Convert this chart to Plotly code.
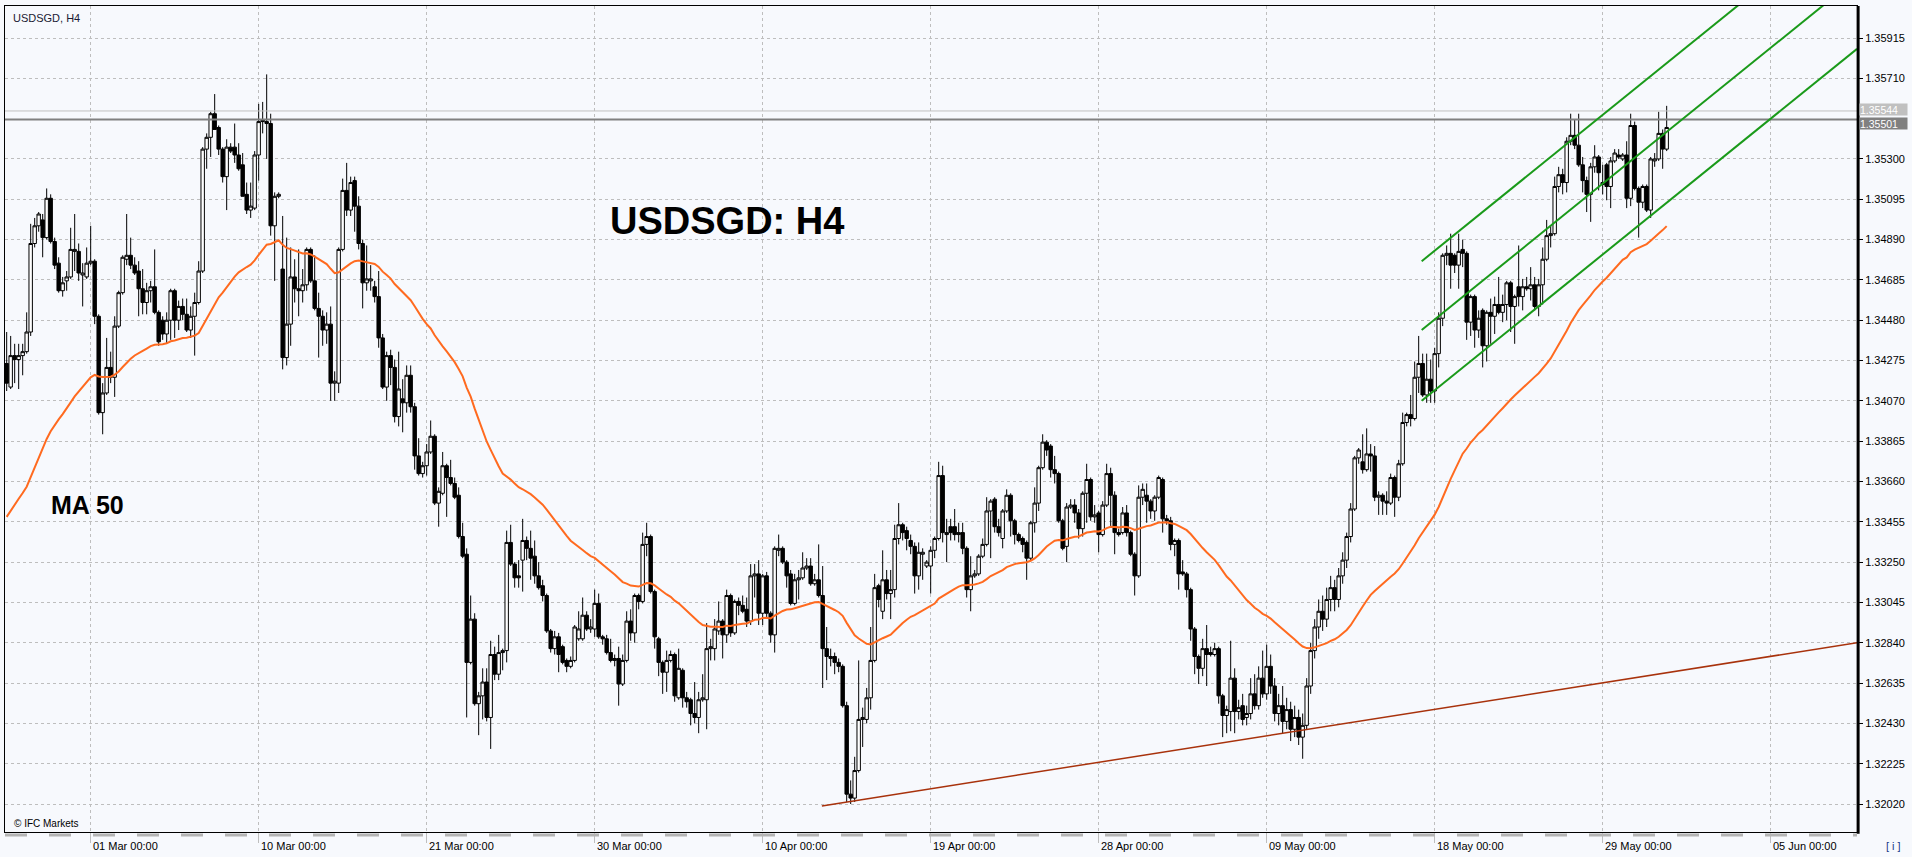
import numpy as np
import pandas as pd
import plotly.graph_objects as go

# ---------------- data ----------------
symbol_caption = "USDSGD, H4"
chart_label = "USDSGD: H4"
ma_label = "MA 50"
ma_period = 50
ma_start = 1.3348          # MA value at the first visible bar
first_bar = "2023-02-23 12:00"
ask_price = 1.35544
bid_price = 1.35501

open_ = [
1.3426,1.3414,1.3430,1.3428,1.3430,1.3432,1.3442,1.3487,1.3496,1.3499,
1.3490,1.3510,1.3488,1.3477,1.3463,1.3468,1.3470,1.3483,1.3483,1.3471,
1.3470,1.3477,1.3478,1.3450,1.3401,1.3411,1.3424,1.3419,1.3445,1.3462,
1.3479,1.3481,1.3476,1.3473,1.3464,1.3457,1.3463,1.3465,1.3452,1.3448,
1.3441,1.3448,1.3463,1.3448,1.3455,1.3451,1.3443,1.3450,1.3457,1.3473,
1.3535,1.3541,1.3553,1.3546,1.3535,1.3521,1.3536,1.3536,1.3532,1.3527,
1.3512,1.3504,1.3505,1.3532,1.3550,1.3549,1.3548,1.3496,1.3511,1.3474,
1.3429,1.3446,1.3470,1.3464,1.3463,1.3466,1.3484,1.3468,1.3454,1.3450,
1.3443,1.3446,1.3416,1.3416,1.3484,1.3514,1.3504,1.3519,1.3506,1.3487,
1.3467,1.3468,1.3465,1.3460,1.3439,1.3414,1.3430,1.3424,1.3399,1.3408,
1.3406,1.3420,1.3404,
1.3379,1.3370,1.3374,1.3381,1.3389,1.3355,1.3360,1.3374,1.3368,1.3365,
1.3359,1.3338,1.3329,1.3274,1.3296,1.3253,1.3257,1.3264,1.3246,1.3278,
1.3268,1.3279,1.3280,1.3335,1.3324,1.3318,1.3326,1.3336,1.3332,1.3328,
1.3318,1.3313,1.3308,1.3290,1.3281,1.3287,1.3282,1.3275,1.3272,1.3275,
1.3286,1.3286,1.3298,1.3291,1.3291,1.3304,1.3287,1.3286,1.3279,1.3275,
1.3276,1.3263,1.3275,1.3295,1.3289,1.3308,1.3305,1.3334,1.3338,1.3310,
1.3286,1.3274,1.3269,1.3275,1.3278,1.3256,1.3270,1.3256,1.3255,1.3248,
1.3246,1.3255,1.3255,1.3281,1.3281,1.3290,1.3295,1.3288,1.3308,1.3289,
1.3305,1.3303,1.3301,1.3295,1.3318,1.3319,1.3299,1.3318,1.3299,1.3288,
1.3331,1.3332,1.3325,1.3319,1.3304,1.3316,1.3317,1.3322,1.3323,1.3314,
1.3316,1.3308,1.3281,1.3276,1.3277,
1.3274,1.3272,1.3252,1.3207,1.3205,1.3219,1.3245,1.3245,1.3256,1.3275,
1.3313,1.3300,1.3316,1.3309,1.3311,1.3337,1.3344,1.3341,1.3336,1.3333,
1.3318,1.3329,1.3323,1.3323,1.3331,1.3337,1.3369,1.3339,1.3343,1.3343,
1.3339,1.3340,1.3332,1.3311,1.3318,1.3319,1.3328,1.3334,1.3351,1.3357,
1.3343,1.3337,1.3351,1.3359,1.3346,1.3339,1.3337,1.3335,1.3327,1.3345,
1.3355,1.3373,1.3386,1.3384,1.3372,1.3370,1.3346,1.3333,1.3353,1.3354,
1.3350,1.3342,1.3360,1.3367,1.3348,1.3350,1.3339,1.3354,1.3370,1.3359,
1.3340,1.3340,1.3350,1.3340,1.3329,1.3318,1.3358,1.3359,1.3356,1.3351,
1.3358,1.3367,1.3347,1.3346,1.3334,1.3336,1.3320,1.3319,1.3311,1.3291,
1.3277,1.3271,1.3281,1.3279,1.3278,1.3281,1.3257,1.3247,1.3249,1.3266,
1.3249,1.3252,1.3246,
1.3248,1.3258,1.3252,1.3266,1.3258,1.3272,1.3262,1.3248,1.3252,1.3244,
1.3250,1.3240,1.3246,1.3236,1.3242,1.3262,1.3280,1.3292,1.3300,1.3296,
1.3306,1.3312,1.3306,1.3318,1.3326,1.3338,1.3352,1.3378,1.3376,1.3372,
1.3380,1.3379,1.3358,1.3359,1.3356,1.3355,1.3368,1.3358,1.3375,1.3396,
1.3400,1.3398,1.3419,1.3426,1.3410,1.3418,1.3412,1.3431,1.3449,1.3481,
1.3482,1.3481,1.3476,1.3484,1.3482,1.3447,1.3460,1.3443,1.3453,1.3435,
1.3452,1.3450,1.3456,1.3452,1.3456,1.3467,1.3455,1.3465,1.3460,1.3465,
1.3464,1.3466,1.3455,1.3466,1.3479,1.3491,1.3492,1.3516,1.3522,1.3518,
1.3539,1.3542,1.3537,1.3527,1.3519,1.3512,1.3526,1.3531,1.3518,1.3527,
1.3516,1.3529,1.3532,1.3530,1.3532,1.3510,1.3547,1.3515,1.3508,1.3516,
1.3504,1.3529,1.3530,1.3543,1.3535]

high = [
1.3442,1.3440,1.3436,1.3436,1.3436,1.3452,1.3497,1.3500,1.3503,1.3502,
1.3515,1.3512,1.3490,1.3480,1.3470,1.3473,1.3495,1.3502,1.3487,1.3477,
1.3485,1.3496,1.3479,1.3451,1.3416,1.3439,1.3432,1.3450,1.3463,1.3481,
1.3502,1.3490,1.3480,1.3478,1.3474,1.3467,1.3468,1.3484,1.3453,1.3450,
1.3452,1.3464,1.3464,1.3458,1.3459,1.3459,1.3455,1.3462,1.3478,1.3536,
1.3543,1.3554,1.3563,1.3547,1.3536,1.3540,1.3538,1.3548,1.3538,1.3533,
1.3518,1.3518,1.3534,1.3558,1.3559,1.3573,1.3553,1.3513,1.3513,1.3501,
1.3490,1.3485,1.3479,1.3484,1.3474,1.3485,1.3485,1.3481,1.3462,1.3453,
1.3452,1.3455,1.3422,1.3485,1.3520,1.3528,1.3521,1.3521,1.3511,1.3489,
1.3486,1.3476,1.3468,1.3473,1.3441,1.3432,1.3433,1.3428,1.3432,1.3418,
1.3425,1.3425,1.3406,
1.3388,1.3376,1.3385,1.3397,1.3390,1.3363,1.3381,1.3375,1.3377,1.3368,
1.3363,1.3345,1.3332,1.3308,1.3299,1.3259,1.3271,1.3271,1.3285,1.3282,
1.3288,1.3281,1.3341,1.3344,1.3325,1.3326,1.3347,1.3338,1.3341,1.3336,
1.3325,1.3316,1.3309,1.3291,1.3290,1.3289,1.3283,1.3276,1.3277,1.3293,
1.3300,1.3307,1.3300,1.3296,1.3311,1.3309,1.3288,1.3288,1.3286,1.3278,
1.3282,1.3278,1.3300,1.3301,1.3309,1.3309,1.3340,1.3345,1.3339,1.3311,
1.3287,1.3275,1.3280,1.3280,1.3279,1.3281,1.3271,1.3259,1.3256,1.3264,
1.3259,1.3268,1.3294,1.3286,1.3296,1.3305,1.3296,1.3311,1.3309,1.3306,
1.3307,1.3308,1.3307,1.3324,1.3324,1.3326,1.3319,1.3320,1.3300,1.3333,
1.3339,1.3333,1.3326,1.3321,1.3319,1.3321,1.3330,1.3327,1.3327,1.3319,
1.3334,1.3323,1.3292,1.3281,1.3279,
1.3276,1.3273,1.3254,1.3214,1.3226,1.3275,1.3251,1.3261,1.3292,1.3319,
1.3314,1.3331,1.3321,1.3321,1.3344,1.3355,1.3345,1.3343,1.3339,1.3335,
1.3335,1.3332,1.3326,1.3333,1.3338,1.3376,1.3374,1.3347,1.3347,1.3352,
1.3345,1.3345,1.3333,1.3328,1.3321,1.3329,1.3337,1.3358,1.3357,1.3358,
1.3347,1.3352,1.3362,1.3360,1.3347,1.3340,1.3338,1.3336,1.3346,1.3363,
1.3374,1.3390,1.3387,1.3385,1.3379,1.3371,1.3347,1.3355,1.3357,1.3357,
1.3352,1.3361,1.3375,1.3368,1.3354,1.3351,1.3356,1.3375,1.3373,1.3361,
1.3342,1.3353,1.3354,1.3341,1.3330,1.3364,1.3365,1.3365,1.3357,1.3359,
1.3369,1.3368,1.3349,1.3348,1.3337,1.3337,1.3326,1.3320,1.3312,1.3292,
1.3278,1.3286,1.3293,1.3282,1.3284,1.3282,1.3258,1.3252,1.3285,1.3271,
1.3255,1.3258,1.3252,
1.3266,1.3268,1.3272,1.3280,1.3283,1.3278,1.3266,1.3258,1.3262,1.3256,
1.3254,1.3252,1.3250,1.3248,1.3266,1.3284,1.3296,1.3306,1.3308,1.3312,
1.3318,1.3316,1.3322,1.3330,1.3340,1.3355,1.3379,1.3383,1.3390,1.3393,
1.3385,1.3384,1.3361,1.3360,1.3361,1.3370,1.3369,1.3377,1.3401,1.3401,
1.3410,1.3427,1.3440,1.3431,1.3431,1.3428,1.3434,1.3452,1.3482,1.3486,
1.3492,1.3482,1.3492,1.3489,1.3483,1.3461,1.3461,1.3453,1.3454,1.3453,
1.3459,1.3460,1.3470,1.3461,1.3468,1.3468,1.3461,1.3486,1.3469,1.3470,
1.3475,1.3470,1.3469,1.3485,1.3499,1.3496,1.3521,1.3526,1.3525,1.3541,
1.3553,1.3550,1.3553,1.3531,1.3521,1.3528,1.3537,1.3532,1.3527,1.3528,
1.3531,1.3535,1.3535,1.3533,1.3539,1.3553,1.3549,1.3516,1.3517,1.3517,
1.3531,1.3533,1.3554,1.3545,1.3557]

low = [
1.3412,1.3413,1.3416,1.3413,1.3420,1.3431,1.3440,1.3485,1.3493,1.3480,
1.3489,1.3487,1.3474,1.3462,1.3460,1.3463,1.3469,1.3473,1.3468,1.3455,
1.3469,1.3476,1.3446,1.3400,1.3390,1.3410,1.3416,1.3409,1.3444,1.3461,
1.3476,1.3474,1.3471,1.3450,1.3451,1.3451,1.3457,1.3451,1.3435,1.3438,
1.3436,1.3438,1.3439,1.3443,1.3448,1.3442,1.3439,1.3430,1.3456,1.3472,
1.3525,1.3531,1.3545,1.3532,1.3518,1.3504,1.3533,1.3528,1.3524,1.3511,
1.3502,1.3500,1.3504,1.3519,1.3543,1.3530,1.3491,1.3468,1.3510,1.3423,
1.3425,1.3435,1.3457,1.3450,1.3457,1.3463,1.3467,1.3453,1.3429,1.3435,
1.3436,1.3407,1.3407,1.3411,1.3483,1.3501,1.3501,1.3493,1.3484,1.3454,
1.3463,1.3463,1.3457,1.3434,1.3413,1.3407,1.3415,1.3396,1.3394,1.3391,
1.3401,1.3401,1.3372,
1.3369,1.3368,1.3369,1.3380,1.3354,1.3343,1.3359,1.3348,1.3364,1.3357,
1.3337,1.3327,1.3246,1.3273,1.3252,1.3237,1.3245,1.3244,1.3230,1.3265,
1.3265,1.3270,1.3274,1.3323,1.3312,1.3312,1.3310,1.3326,1.3316,1.3314,
1.3311,1.3305,1.3289,1.3279,1.3278,1.3269,1.3273,1.3269,1.3271,1.3274,
1.3285,1.3285,1.3290,1.3289,1.3287,1.3286,1.3283,1.3278,1.3274,1.3272,
1.3252,1.3262,1.3274,1.3285,1.3284,1.3301,1.3304,1.3328,1.3309,1.3281,
1.3267,1.3258,1.3259,1.3274,1.3254,1.3255,1.3251,1.3251,1.3242,1.3243,
1.3238,1.3254,1.3240,1.3275,1.3275,1.3288,1.3276,1.3284,1.3287,1.3288,
1.3298,1.3299,1.3292,1.3293,1.3307,1.3293,1.3293,1.3297,1.3284,1.3279,
1.3328,1.3324,1.3312,1.3303,1.3303,1.3306,1.3316,1.3321,1.3313,1.3313,
1.3307,1.3261,1.3265,1.3272,1.3268,
1.3269,1.3251,1.3203,1.3202,1.3203,1.3218,1.3231,1.3243,1.3250,1.3274,
1.3302,1.3296,1.3306,1.3296,1.3307,1.3334,1.3336,1.3331,1.3329,1.3309,
1.3311,1.3316,1.3322,1.3309,1.3327,1.3336,1.3335,1.3325,1.3336,1.3336,
1.3335,1.3329,1.3307,1.3300,1.3317,1.3318,1.3327,1.3333,1.3327,1.3340,
1.3338,1.3332,1.3350,1.3338,1.3334,1.3335,1.3330,1.3316,1.3326,1.3340,
1.3351,1.3372,1.3379,1.3368,1.3365,1.3345,1.3331,1.3325,1.3352,1.3345,
1.3337,1.3338,1.3345,1.3346,1.3345,1.3330,1.3338,1.3353,1.3343,1.3329,
1.3338,1.3339,1.3338,1.3328,1.3308,1.3317,1.3354,1.3345,1.3347,1.3346,
1.3357,1.3340,1.3344,1.3331,1.3328,1.3311,1.3318,1.3307,1.3285,1.3268,
1.3263,1.3267,1.3262,1.3277,1.3277,1.3253,1.3236,1.3238,1.3239,1.3238,
1.3245,1.3242,1.3242,
1.3245,1.3250,1.3250,1.3256,1.3255,1.3258,1.3244,1.3242,1.3238,1.3240,
1.3234,1.3236,1.3232,1.3225,1.3240,1.3258,1.3276,1.3286,1.3290,1.3292,
1.3300,1.3300,1.3302,1.3314,1.3322,1.3335,1.3351,1.3375,1.3370,1.3371,
1.3371,1.3356,1.3349,1.3349,1.3349,1.3354,1.3348,1.3356,1.3374,1.3394,
1.3394,1.3397,1.3411,1.3409,1.3406,1.3406,1.3406,1.3424,1.3445,1.3476,
1.3464,1.3472,1.3464,1.3475,1.3438,1.3440,1.3434,1.3439,1.3424,1.3427,
1.3436,1.3441,1.3451,1.3447,1.3448,1.3442,1.3436,1.3455,1.3453,1.3463,
1.3458,1.3453,1.3450,1.3456,1.3478,1.3485,1.3491,1.3513,1.3512,1.3513,
1.3537,1.3535,1.3526,1.3513,1.3503,1.3498,1.3523,1.3514,1.3512,1.3509,
1.3505,1.3528,1.3530,1.3529,1.3505,1.3506,1.3514,1.3490,1.3505,1.3503,
1.3500,1.3526,1.3529,1.3525,1.3534]

close = [
1.3416,1.3430,1.3428,1.3430,1.3432,1.3442,1.3487,1.3496,1.3502,1.3490,
1.3510,1.3488,1.3476,1.3463,1.3467,1.3470,1.3484,1.3484,1.3472,1.3472,
1.3477,1.3478,1.3450,1.3401,1.3411,1.3424,1.3419,1.3445,1.3462,1.3480,
1.3481,1.3476,1.3472,1.3464,1.3457,1.3463,1.3465,1.3452,1.3437,1.3441,
1.3448,1.3463,1.3448,1.3455,1.3451,1.3443,1.3450,1.3457,1.3473,1.3535,
1.3541,1.3553,1.3545,1.3535,1.3521,1.3536,1.3534,1.3532,1.3525,1.3511,
1.3504,1.3506,1.3532,1.3549,1.3549,1.3548,1.3496,1.3511,1.3512,1.3429,
1.3446,1.3470,1.3464,1.3463,1.3466,1.3484,1.3468,1.3454,1.3450,1.3443,
1.3446,1.3416,1.3417,1.3484,1.3514,1.3504,1.3518,1.3506,1.3487,1.3467,
1.3469,1.3469,1.3460,1.3439,1.3414,1.3430,1.3424,1.3399,1.3413,1.3406,
1.3420,1.3404,1.3379,
1.3370,1.3374,1.3381,1.3389,1.3355,1.3361,1.3374,1.3368,1.3365,1.3358,
1.3338,1.3328,1.3274,1.3296,1.3253,1.3257,1.3264,1.3246,1.3278,1.3268,
1.3279,1.3280,1.3335,1.3324,1.3317,1.3317,1.3336,1.3332,1.3327,1.3318,
1.3312,1.3308,1.3290,1.3281,1.3287,1.3278,1.3274,1.3272,1.3275,1.3292,
1.3291,1.3298,1.3291,1.3292,1.3304,1.3287,1.3286,1.3279,1.3275,1.3276,
1.3263,1.3275,1.3295,1.3289,1.3308,1.3305,1.3334,1.3338,1.3310,1.3287,
1.3274,1.3269,1.3275,1.3278,1.3257,1.3271,1.3256,1.3254,1.3248,1.3246,
1.3255,1.3256,1.3281,1.3282,1.3291,1.3295,1.3288,1.3308,1.3289,1.3305,
1.3303,1.3300,1.3295,1.3318,1.3319,1.3299,1.3318,1.3299,1.3288,1.3332,
1.3332,1.3325,1.3318,1.3304,1.3316,1.3317,1.3322,1.3323,1.3314,1.3316,
1.3308,1.3281,1.3277,1.3277,1.3274,
1.3272,1.3252,1.3207,1.3205,1.3219,1.3245,1.3246,1.3256,1.3275,1.3312,
1.3306,1.3316,1.3309,1.3311,1.3337,1.3344,1.3340,1.3337,1.3333,1.3318,
1.3330,1.3330,1.3325,1.3331,1.3337,1.3369,1.3340,1.3340,1.3340,1.3339,
1.3340,1.3332,1.3311,1.3318,1.3319,1.3328,1.3334,1.3351,1.3356,1.3343,
1.3340,1.3351,1.3359,1.3346,1.3339,1.3336,1.3334,1.3327,1.3345,1.3355,
1.3373,1.3386,1.3382,1.3372,1.3370,1.3346,1.3332,1.3353,1.3354,1.3350,
1.3342,1.3360,1.3367,1.3348,1.3349,1.3339,1.3354,1.3370,1.3359,1.3340,
1.3339,1.3350,1.3340,1.3329,1.3318,1.3358,1.3362,1.3356,1.3351,1.3358,
1.3368,1.3347,1.3346,1.3334,1.3336,1.3319,1.3319,1.3311,1.3291,1.3277,
1.3271,1.3281,1.3278,1.3278,1.3281,1.3257,1.3247,1.3250,1.3266,1.3249,
1.3251,1.3245,1.3248,
1.3258,1.3252,1.3266,1.3258,1.3272,1.3262,1.3248,1.3252,1.3244,1.3250,
1.3240,1.3246,1.3236,1.3242,1.3262,1.3280,1.3292,1.3300,1.3296,1.3306,
1.3312,1.3306,1.3318,1.3326,1.3338,1.3352,1.3378,1.3382,1.3372,1.3380,
1.3379,1.3358,1.3359,1.3356,1.3355,1.3368,1.3358,1.3375,1.3396,1.3400,
1.3398,1.3419,1.3426,1.3410,1.3418,1.3412,1.3431,1.3449,1.3481,1.3482,
1.3476,1.3476,1.3483,1.3482,1.3447,1.3460,1.3443,1.3449,1.3435,1.3452,
1.3450,1.3456,1.3452,1.3456,1.3467,1.3455,1.3460,1.3460,1.3465,1.3464,
1.3466,1.3455,1.3466,1.3479,1.3491,1.3492,1.3516,1.3522,1.3518,1.3539,
1.3542,1.3537,1.3527,1.3519,1.3512,1.3526,1.3531,1.3523,1.3517,1.3516,
1.3529,1.3533,1.3531,1.3532,1.3510,1.3547,1.3515,1.3508,1.3516,1.3504,
1.3530,1.3530,1.3543,1.3535,1.3546]

# trend objects drawn on the chart (bar position, price)
support_x = [203.8, 462.6]
support_y = [1.3201, 1.3284]
channel_x = [353.75, 462.6]
channel_top = [1.3478, 1.3657]
channel_mid = [1.3443, 1.3622]
channel_bot = [1.3407, 1.3586]

date_ticks = ["2023-03-01", "2023-03-10", "2023-03-21", "2023-03-30", "2023-04-10",
              "2023-04-19", "2023-04-28", "2023-05-09", "2023-05-18", "2023-05-29",
              "2023-06-05"]
price_ticks = [1.32020, 1.32225, 1.32430, 1.32635, 1.32840, 1.33045, 1.33250, 1.33455,
               1.33660, 1.33865, 1.34070, 1.34275, 1.34480, 1.34685, 1.34890, 1.35095,
               1.35300, 1.35710, 1.35915]

# ---------------- derived ----------------
n = min(len(open_), len(high), len(low), len(close))
open_, high, low, close = open_[:n], high[:n], low[:n], close[:n]
days = pd.bdate_range("2023-02-20", "2023-07-31")
stamps = [d + pd.Timedelta(hours=hh) for d in days for hh in range(0, 24, 4)]
stamps = [t for t in stamps if t >= pd.Timestamp(first_bar)][:n]
x = np.arange(n)


def bar_pos(ts):
    ts = pd.Timestamp(ts)
    if ts <= stamps[-1]:
        return stamps.index(ts)
    return (n - 1) + (ts - stamps[-1]) / pd.Timedelta(hours=4)


tick_pos = [bar_pos(d) for d in date_ticks]
tick_txt = [pd.Timestamp(d).strftime("%d %b %H:%M") for d in date_ticks]

alpha = 2.0 / (ma_period + 1)
ema = [ma_start]
for cval in close[1:]:
    ema.append(alpha * cval + (1 - alpha) * ema[-1])

# ---------------- figure ----------------
BG = "#F7F9FD"
GRID = "#BEBEBE"
FONT = "Liberation Sans, Arial, sans-serif"
x_range = [-0.42, 462.58]
y_range = [1.318776, 1.360777]

fig = go.Figure()

# horizontal price lines (below candles)
fig.add_trace(go.Scatter(x=x_range, y=[ask_price, ask_price], mode="lines",
                         line=dict(color="#C0C0C0", width=1), hoverinfo="skip", showlegend=False))
fig.add_trace(go.Scatter(x=x_range, y=[bid_price, bid_price], mode="lines",
                         line=dict(color="#808080", width=2), hoverinfo="skip", showlegend=False))

fig.add_trace(go.Candlestick(
    x=x, open=open_, high=high, low=low, close=close,
    increasing=dict(line=dict(color="black", width=1), fillcolor="white"),
    decreasing=dict(line=dict(color="black", width=1), fillcolor="black"),
    whiskerwidth=0, showlegend=False, hoverinfo="skip"))

fig.add_trace(go.Scatter(x=x, y=ema, mode="lines", line=dict(color="#FF6A1F", width=2),
                         hoverinfo="skip", showlegend=False))
fig.add_trace(go.Scatter(x=support_x, y=support_y, mode="lines",
                         line=dict(color="#A8320C", width=1.5), hoverinfo="skip", showlegend=False))
for yy in (channel_top, channel_mid, channel_bot):
    fig.add_trace(go.Scatter(x=channel_x, y=yy, mode="lines",
                             line=dict(color="#1A9A1A", width=2), hoverinfo="skip", showlegend=False))

ann = []
for p, t in zip(tick_pos, tick_txt):
    ann.append(dict(x=p, xref="x", y=0, yref="paper", yshift=-14, xshift=0, text=t,
                    xanchor="left", yanchor="middle", showarrow=False,
                    font=dict(family=FONT, size=11, color="#000000")))
ann.append(dict(x=0.0, xref="paper", y=1, yref="paper", xshift=6, yshift=-4, text=symbol_caption,
                xanchor="left", yanchor="top", showarrow=False,
                font=dict(family=FONT, size=11, color="#1A1A33")))
ann.append(dict(x=0.3257, xref="paper", y=0.7397, yref="paper", text="<b>" + chart_label + "</b>",
                xanchor="left", yanchor="middle", showarrow=False,
                font=dict(family=FONT, size=38, color="#000000")))
ann.append(dict(x=0.0236, xref="paper", y=0.3959, yref="paper", text="<b>" + ma_label + "</b>",
                xanchor="left", yanchor="middle", showarrow=False,
                font=dict(family=FONT, size=25, color="#000000")))
ann.append(dict(x=0, xref="paper", y=0, yref="paper", xshift=7, yshift=1, text="© IFC Markets",
                xanchor="left", yanchor="bottom", showarrow=False,
                font=dict(family=FONT, size=10, color="#000000")))
ann.append(dict(x=1, xref="paper", y=0, yref="paper", xshift=36, yshift=-14, text="[ i ]",
                xanchor="center", yanchor="middle", showarrow=False,
                font=dict(family=FONT, size=11, color="#1A3A8A")))
# price labels on the right scale (ask on top, bid just below)
ann.append(dict(x=1, xref="paper", y=bid_price, yref="y", xshift=2, yshift=-4, text=f"{bid_price:.5f}",
                xanchor="left", yanchor="middle", showarrow=False, bgcolor="#808080",
                width=47, height=11, borderpad=0, align="left",
                font=dict(family=FONT, size=10.5, color="#FFFFFF")))
ann.append(dict(x=1, xref="paper", y=ask_price, yref="y", xshift=2, yshift=1, text=f"{ask_price:.5f}",
                xanchor="left", yanchor="middle", showarrow=False, bgcolor="#C0C0C0",
                width=47, height=11, borderpad=0, align="left",
                font=dict(family=FONT, size=10.5, color="#FFFFFF")))

shapes = [
    dict(type="line", xref="paper", yref="paper", x0=1.0006, x1=1.0006, y0=-0.002, y1=1,
         line=dict(color="black", width=3)),
    dict(type="line", xref="paper", yref="paper", x0=0, x1=1, y0=-0.0036, y1=-0.0036,
         line=dict(color="#B4B4B4", width=3, dash="22px,22px")),
]

fig.update_layout(
    width=1912, height=857,
    margin=dict(l=5, r=55, t=6, b=25),
    paper_bgcolor=BG, plot_bgcolor=BG,
    showlegend=False, hovermode=False,
    annotations=ann, shapes=shapes,
    boxgap=0.15, boxgroupgap=0.0,
    xaxis=dict(range=x_range, rangeslider=dict(visible=False), tickmode="array",
               tickvals=tick_pos, showticklabels=False, ticks="outside", ticklen=10,
               tickcolor=GRID, showgrid=True, gridcolor=GRID, griddash="3px,3px",
               gridwidth=1, zeroline=False, showline=True, linecolor="black",
               linewidth=1, mirror=True, fixedrange=True),
    yaxis=dict(range=y_range, side="right", tickmode="array", tickvals=price_ticks,
               ticktext=[f"{v:.5f}" for v in price_ticks], ticks="outside", ticklen=5,
               tickcolor="black", tickfont=dict(family=FONT, size=11, color="black"),
               showgrid=True, gridcolor=GRID, griddash="3px,3px", gridwidth=1,
               zeroline=False, showline=True, linecolor="black", linewidth=1, mirror=True,
               fixedrange=True),
)

fig.write_html("out.html", config={"displayModeBar": False},
               post_script="document.body.style.margin='0px';document.body.style.background='" + BG + "';")
